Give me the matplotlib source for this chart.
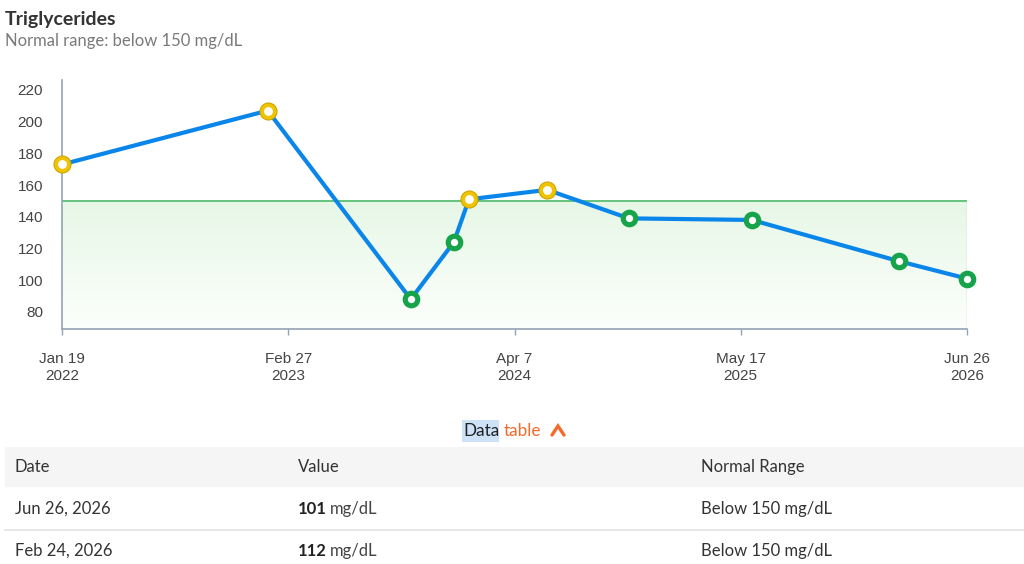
import matplotlib
matplotlib.use('Agg')
import matplotlib.pyplot as plt
import matplotlib.dates as mdates
from matplotlib.patches import Rectangle
from matplotlib.lines import Line2D
import numpy as np

# ---------------- data ----------------
dates = ["2022-01-19", "2023-01-22", "2023-10-05", "2023-12-21", "2024-01-17",
         "2024-06-05", "2024-10-29", "2025-06-06", "2026-02-24", "2026-06-26"]
values = [173, 207, 88, 124, 151, 157, 139, 138, 112, 101]
normal_limit = 150
x_tick_labels = ["Jan 19\n2022", "Feb 27\n2023", "Apr 7\n2024", "May 17\n2025", "Jun 26\n2026"]
y_ticks = [80, 100, 120, 140, 160, 180, 200, 220]
title = "Triglycerides"
subtitle = "Normal range: below 150 mg/dL"
table_header = ["Date", "Value", "Normal Range"]
table_dates = ["Jun 26, 2026", "Feb 24, 2026"]
table_values = [101, 112]
table_ranges = ["Below 150 mg/dL", "Below 150 mg/dL"]
unit = "mg/dL"

W, H = 1024, 564
fig = plt.figure(figsize=(W / 100, H / 100), dpi=100)
fig.patch.set_facecolor('white')

def fx(x):
    return x / W

def fy(y):
    return 1 - y / H

UI_FONT = ['Lato', 'DejaVu Sans']
AX_FONT = ['Liberation Sans', 'DejaVu Sans']
UI_SIZE = 12

# ---------------- chart ----------------
ax = fig.add_axes([fx(62), fy(329), 905 / W, 249 / H])
xd = mdates.datestr2num(dates)
x0, x1 = xd[0], xd[-1]
ylo, yhi = 69.2, 226.3
ax.set_xlim(x0, x1)
ax.set_ylim(ylo, yhi)

# gradient normal band
n = 256
top = np.array([230, 247, 230]) / 255.0
bot = np.array([252, 255, 252]) / 255.0
t = np.linspace(0, 1, n)[:, None]
grad = (top * (1 - t) + bot * t)[:, None, :]
ax.imshow(grad, extent=[x0, x1, ylo, normal_limit], aspect='auto', origin='upper', zorder=0)
ax.plot([x0, x1], [normal_limit, normal_limit], color='#5cbf74', lw=1.3, zorder=1)
ax.plot([x1, x1], [ylo, normal_limit], color='#aadcb4', lw=1.0, zorder=1)

# line
ax.plot(xd, values, color='#0a86ea', lw=3.0, solid_capstyle='round', solid_joinstyle='round', zorder=3)

# markers
for xv, v in zip(xd, values):
    if v > normal_limit:
        ax.plot([xv], [v], marker='o', ms=9.0, mfc='white', mec='#c9a100', mew=4.0, zorder=4, clip_on=False)
        ax.plot([xv], [v], marker='o', ms=9.0, mfc='white', mec='#efc300', mew=2.6, zorder=5, clip_on=False)
    else:
        ax.plot([xv], [v], marker='o', ms=9.0, mfc='white', mec='#17a34a', mew=3.7, zorder=5, clip_on=False)

for s in ['top', 'right']:
    ax.spines[s].set_visible(False)
for s in ['left', 'bottom']:
    ax.spines[s].set_color('#93a3b3')
    ax.spines[s].set_linewidth(1.2)

ax.set_yticks(y_ticks)
ax.set_yticklabels([str(v) for v in y_ticks], family=AX_FONT, fontsize=11, color='#444444')
ax.tick_params(axis='y', length=0, pad=13.5)
xt = np.linspace(x0, x1, len(x_tick_labels))
ax.set_xticks(xt)
ax.set_xticklabels(x_tick_labels, family=AX_FONT, fontsize=11, color='#444444', linespacing=1.3)
ax.tick_params(axis='x', length=4, width=1, color='#93a3b3', pad=12.5)
ax.set_facecolor('none')

# ---------------- titles ----------------
fig.text(fx(5), fy(19), title, family=UI_FONT, fontsize=14, fontweight='bold', color='#333333', va='center', ha='left')
fig.text(fx(5), fy(41), subtitle, family=UI_FONT, fontsize=12, color='#7a7a7a', va='center', ha='left')

# ---------------- data table toggle ----------------
fig.patches.append(Rectangle((fx(462), fy(442)), 37 / W, 22 / H, transform=fig.transFigure,
                             facecolor='#cde1f7', edgecolor='none', zorder=0))
fig.text(fx(463), fy(431), "Data", family=UI_FONT, fontsize=12.3, color='#222222', va='center', ha='left')
fig.text(fx(504), fy(431), "table", family=UI_FONT, fontsize=12.3, color='#f26b2b', va='center', ha='left')
fig.lines.append(Line2D([fx(552), fx(558), fx(564)], [fy(435), fy(426), fy(435)], transform=fig.transFigure,
                        color='#f26b2b', lw=2.4, solid_capstyle='round', solid_joinstyle='miter'))

# ---------------- table ----------------
fig.patches.append(Rectangle((fx(5), fy(487)), (W - 5) / W, 40 / H, transform=fig.transFigure,
                             facecolor='#f5f5f5', edgecolor='none', zorder=0))
fig.lines.append(Line2D([fx(5), fx(W)], [fy(530), fy(530)], transform=fig.transFigure, color='#e2e2e2', lw=1.2))

col_x = [15, 298, 701]
for cx, h in zip(col_x, table_header):
    fig.text(fx(cx), fy(467), h, family=UI_FONT, fontsize=UI_SIZE, color='#333333', va='center', ha='left')

row_y = [509, 551]
for ry, d, v, r in zip(row_y, table_dates, table_values, table_ranges):
    fig.text(fx(col_x[0]), fy(ry), d, family=UI_FONT, fontsize=UI_SIZE, color='#333333', va='center', ha='left')
    fig.text(fx(col_x[1]), fy(ry), str(v), family=UI_FONT, fontsize=UI_SIZE, fontweight='bold', color='#222222', va='center', ha='left')
    fig.text(fx(col_x[1] + 32), fy(ry), unit, family=UI_FONT, fontsize=UI_SIZE, color='#444444', va='center', ha='left')
    fig.text(fx(col_x[2]), fy(ry), r, family=UI_FONT, fontsize=UI_SIZE, color='#333333', va='center', ha='left')

fig.savefig('out.png', dpi=100, facecolor='white')
